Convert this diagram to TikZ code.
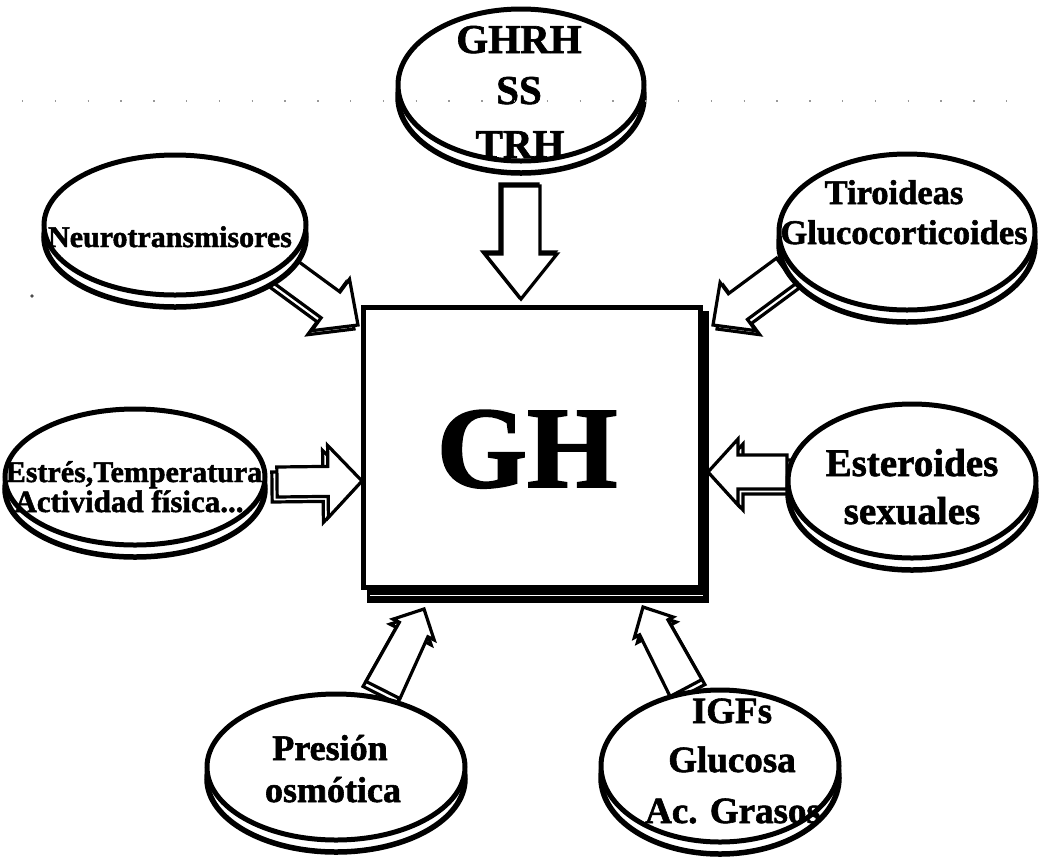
\documentclass[tikz,border=0pt]{standalone}
\usepackage{fontspec}
\setmainfont{Liberation Serif}[BoldFeatures={FakeBold=1.6}]
\usetikzlibrary{shapes.geometric,calc}
\tikzset{
  discmain/.style={ellipse, draw, line width=5pt, fill=white, inner sep=0pt, outer sep=0pt},
  discshadow/.style={draw, line width=5.5pt, fill=white},
  arrline/.style={draw, line width=3.2pt, fill=white, line join=miter, miter limit=4},
  gbox/.style={draw, line width=5pt, fill=white, inner sep=0pt, outer sep=0pt},
  lbl/.style={inner sep=0pt, anchor=base, font=\bfseries\fontsize{#1}{#1}\selectfont},
  dots/.style={draw=black!40, line width=1.3pt, dash pattern=on 1.3pt off 31.5pt},
}
% disc: name, cx, cy, rx, ry
\newcommand\disc[5]{%
  \path[discshadow] (#2,#3+12) ellipse [x radius=#4, y radius=#5];
  \node[discmain, minimum width=2*#4, minimum height=2*#5] (#1) at (#2,#3) {};
}
% block arrow: tail, tip, tail half width, head-end half width, head half width, head length, shadow dx, dy
\newcommand\blockarr[8]{%
  \coordinate (#1-hb) at ($(#2)!#6pt!(#1)$);
  \begin{scope}[transform canvas={shift={(#7,#8)}}]
  \path[arrline] ($(#1)!#3pt!90:(#2)$) -- ($(#1-hb)!#4pt!90:(#2)$) -- ($(#1-hb)!#5pt!90:(#2)$) -- (#2)
     -- ($(#1-hb)!#5pt!-90:(#2)$) -- ($(#1-hb)!#4pt!-90:(#2)$) -- ($(#1)!#3pt!-90:(#2)$) -- cycle;
  \end{scope}
  \path[arrline] ($(#1)!#3pt!90:(#2)$) -- ($(#1-hb)!#4pt!90:(#2)$) -- ($(#1-hb)!#5pt!90:(#2)$) -- (#2)
     -- ($(#1-hb)!#5pt!-90:(#2)$) -- ($(#1-hb)!#4pt!-90:(#2)$) -- ($(#1)!#3pt!-90:(#2)$) -- cycle;
}
\begin{document}
\begin{tikzpicture}[x=1pt,y=-1pt]
\useasboundingbox[fill=white] (0,0) rectangle (1039,863);

% arrow ends
\coordinate (tTop) at (521,186);   \coordinate (pTop) at (521,299);
\coordinate (tNeu) at (283,270);   \coordinate (pNeu) at (358,325);
\coordinate (tTir) at (786,271);   \coordinate (pTir) at (713,325);
\coordinate (tEst) at (277,482);   \coordinate (pEst) at (362,481);
\coordinate (tSex) at (787,472);   \coordinate (pSex) at (708,472);
\coordinate (tPre) at (383,690);   \coordinate (pPre) at (424,609);
\coordinate (tIgf) at (686,688);   \coordinate (pIgf) at (643,607);

% arrows
\blockarr{tTop}{pTop}{19}{19}{36}{45}{-2}{-2}
\blockarr{tNeu}{pNeu}{16}{16}{32}{34}{-4}{4}
\blockarr{tTir}{pTir}{16}{16}{30}{31}{4}{4}
\blockarr{tEst}{pEst}{15}{15}{36}{34}{-5}{5}
\blockarr{tSex}{pSex}{17}{17}{33}{30}{5}{5}
\blockarr{tPre}{pPre}{19}{16}{23}{23}{-3}{5}
\blockarr{tIgf}{pIgf}{18}{16}{22}{23}{3}{5}

% central box with shadow
\fill (367,311) rectangle (709,603);
\draw[white, line width=1.3pt] (370,595.5) -- (703,595.5);
\node[gbox, minimum width=337, minimum height=280] (gh) at (532,447.5) {};
\node[lbl=116] (ghlabel) at (527,487) {GH};

% discs
\disc{dTop}{521}{85}{123}{76}
\disc{dNeu}{175}{225}{131}{70}
\disc{dTir}{907}{232}{128}{78}
\disc{dEst}{135}{477}{130}{68}
\disc{dSex}{912}{481}{124}{77}
\disc{dPre}{336}{767}{129}{73}
\disc{dIgf}{720}{766}{119}{76}

% labels
\node[lbl=41] (l1) at (519,53) {GHRH};
\node[lbl=41] (l2) at (519,104) {SS};
\node[lbl=41] (l3) at (520,158) {TRH};
\node[lbl=30] (l4) at (170,247) {Neurotransmisores};
\node[lbl=34.5] (l5) at (894,204) {Tiroideas};
\node[lbl=34.5] (l6) at (904,244) {Glucocorticoides};
\node[lbl=30] (l7) at (134,482) {Estrés,Temperatura};
\node[lbl=31] (l8) at (129,512) {Actividad física...};
\node[lbl=39] (l9) at (912,476) {Esteroides};
\node[lbl=39] (l10) at (912,524) {sexuales};
\node[lbl=36] (l11) at (330,760) {Presión};
\node[lbl=36] (l12) at (333,802) {osmótica};
\node[lbl=37] (l13) at (732,723) {IGFs};
\node[lbl=37] (l14) at (732,772) {Glucosa};
\node[lbl=37] (l15) at (733,823) {Ac. Grasos};

% faint dotted scan line and stray dot
\path[dots] (22,101) -- (1037,101);
\fill[black!70] (32,296) circle (1.8);
\end{tikzpicture}
\end{document}
